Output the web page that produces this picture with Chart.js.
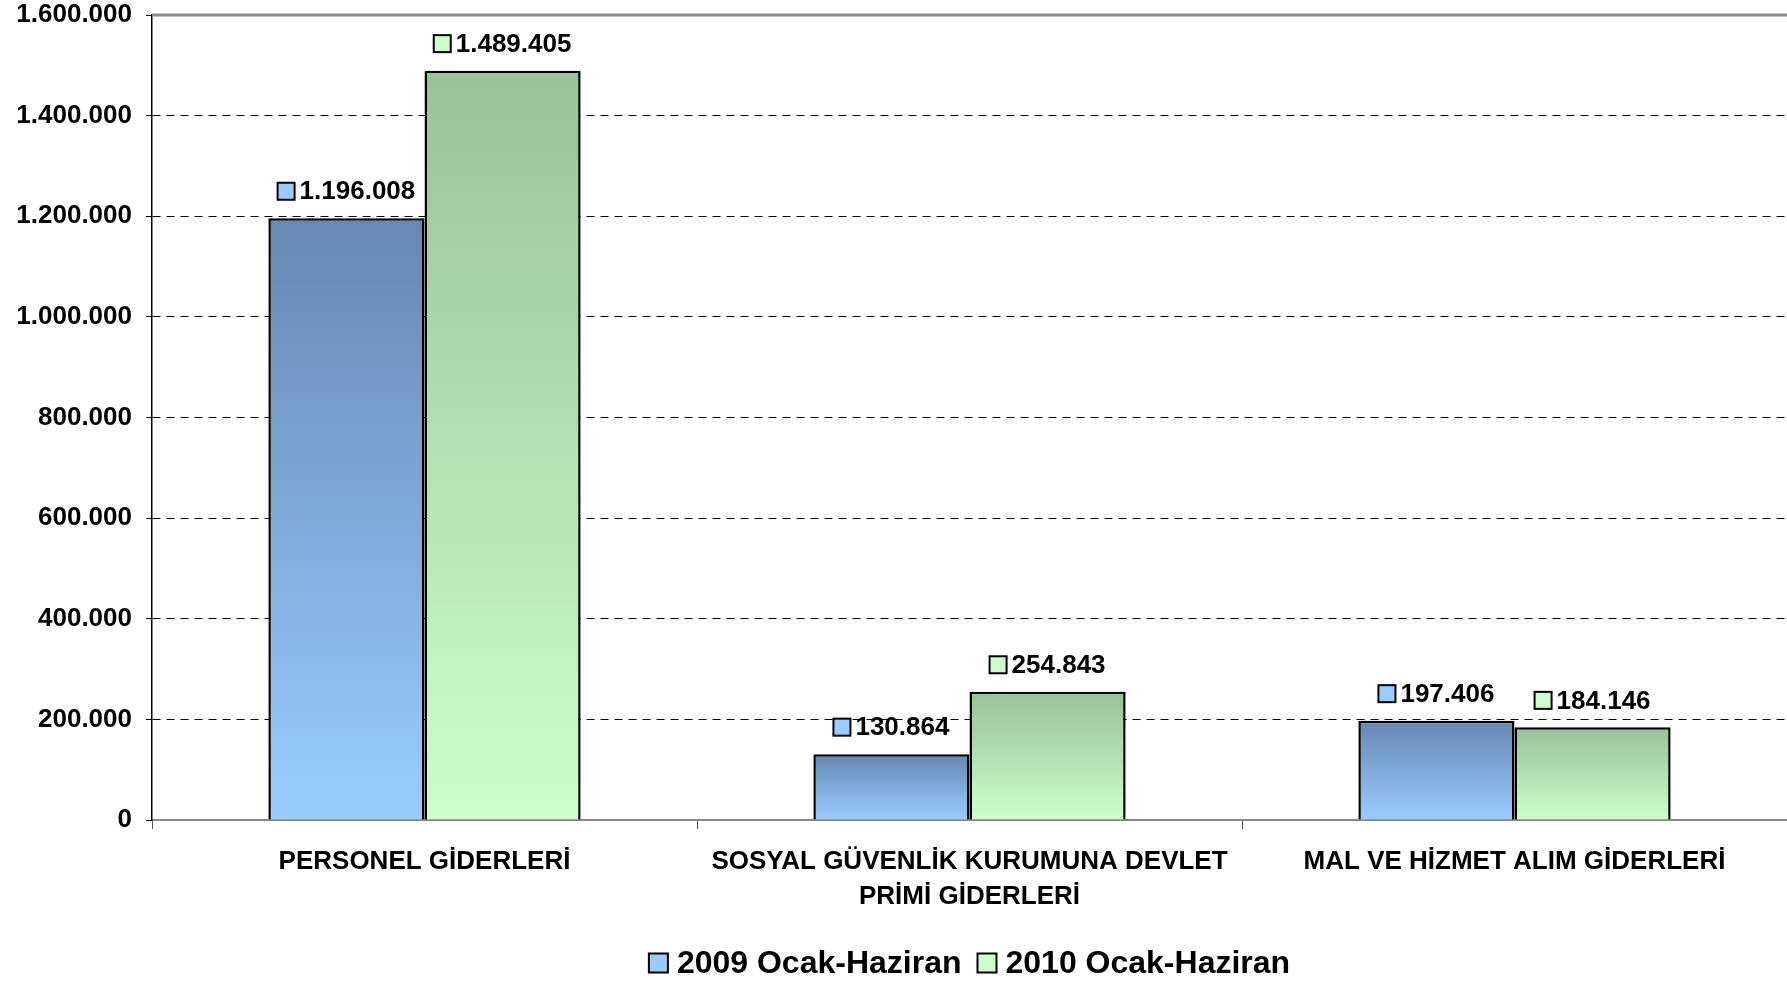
<!DOCTYPE html>
<html>
<head>
<meta charset="utf-8">
<script src="https://cdn.jsdelivr.net/npm/chart.js@4"></script>
<style>
  body { margin: 0; background: #fff; }
  #wrap { width: 1787px; height: 982px; }
</style>
</head>
<body>
<div id="wrap"><canvas id="chart"></canvas></div>
<script>
// Data
const categories = [
  "PERSONEL GİDERLERİ",
  ["SOSYAL GÜVENLİK KURUMUNA DEVLET", "PRİMİ GİDERLERİ"],
  "MAL VE HİZMET ALIM GİDERLERİ"
];
const seriesNames = ["2009 Ocak-Haziran", "2010 Ocak-Haziran"];
const values2009 = [1196008, 130864, 197406];
const values2010 = [1489405, 254843, 184146];
const yMax = 1600000;
const yStep = 200000;

const FONT = "'Liberation Sans', Arial, sans-serif";
const darkColors = ["#6688b2", "#98c298"];
const lightColors = ["#99ccff", "#ccffcc"];

// 1.600.000 style numbers
function fmt(v) {
    return String(v).replace(/\B(?=(\d{3})+(?!\d))/g, ".");
}

// gradient per bar, dark at top, light at bottom
function barFill(i) {
    return function (c) {
        const chart = c.chart;
        if (!chart.chartArea || c.raw === undefined) return lightColors[i];
        const y = chart.scales.y;
        const top = y.getPixelForValue(c.raw);
        const bottom = y.getPixelForValue(0);
        const g = chart.ctx.createLinearGradient(0, top, 0, bottom);
        g.addColorStop(0, darkColors[i]);
        g.addColorStop(1, lightColors[i]);
        return g;
    };
}

// small key square with black border
function keyBox(ctx, x, y, size, color) {
    ctx.fillStyle = color;
    ctx.fillRect(x, y, size, size);
    ctx.strokeStyle = "#000";
    ctx.lineWidth = 2;
    ctx.strokeRect(x, y, size, size);
}

// value labels with small key square
const valueLabels = {
    id: "valueLabels",
    afterDatasetsDraw(chart) {
        const ctx = chart.ctx;
        ctx.save();
        ctx.font = "bold 26px " + FONT;
        ctx.textBaseline = "middle";
        ctx.textAlign = "left";
        chart.data.datasets.forEach((ds, i) => {
            const meta = chart.getDatasetMeta(i);
            meta.data.forEach((bar, j) => {
                const text = fmt(ds.data[j]);
                const tw = ctx.measureText(text).width;
                const box = 17, gap = 5;
                const x0 = bar.x - (box + gap + tw) / 2;
                const yc = bar.y - 27;
                keyBox(ctx, x0, yc - box / 2, box, lightColors[i]);
                ctx.fillStyle = "#000";
                ctx.fillText(text, x0 + box + gap, yc + 1);
            });
        });
        ctx.restore();
    }
};

// grey top border + legend under the axis labels
const extras = {
    id: "extras",
    afterDraw(chart) {
        const a = chart.chartArea;
        const ctx = chart.ctx;
        ctx.save();
        ctx.strokeStyle = "#888";
        ctx.lineWidth = 3;
        ctx.beginPath();
        ctx.moveTo(a.left, a.top);
        ctx.lineTo(a.right, a.top);
        ctx.stroke();

        // legend
        ctx.font = "bold 32px " + FONT;
        ctx.textBaseline = "middle";
        ctx.textAlign = "left";
        const box = 19, gap = 9, itemGap = 16;
        const widths = seriesNames.map((n) => box + gap + ctx.measureText(n).width);
        const total = widths.reduce((s, w) => s + w, 0) + itemGap * (seriesNames.length - 1);
        let x = (a.left + a.right) / 2 - total / 2;
        const yc = 963;
        seriesNames.forEach((n, i) => {
            keyBox(ctx, x, yc - box / 2, box, lightColors[i]);
            ctx.fillStyle = "#000";
            ctx.fillText(n, x + box + gap, yc + 1);
            x += widths[i] + itemGap;
        });
        ctx.restore();
    }
};

new Chart(document.getElementById("chart"), {
    type: "bar",
    data: {
        labels: categories,
        datasets: [
            {
                label: seriesNames[0],
                data: values2009,
                backgroundColor: barFill(0),
                borderColor: "#000",
                borderWidth: 2.5
            },
            {
                label: seriesNames[1],
                data: values2010,
                backgroundColor: barFill(1),
                borderColor: "#000",
                borderWidth: 2.5
            }
        ]
    },
    options: {
        responsive: true,
        maintainAspectRatio: false,
        animation: false,
        layout: { padding: { top: 15, left: 0, right: 0, bottom: 0 } },
        datasets: {
            bar: { barPercentage: 1, categoryPercentage: 0.573 }
        },
        scales: {
            x: {
                grid: {
                    drawOnChartArea: false,
                    drawTicks: true,
                    tickLength: 9,
                    color: "#555",
                    offset: true
                },
                border: { color: "#888", width: 2 },
                ticks: {
                    color: "#000",
                    font: { family: FONT, size: 26, weight: "bold", lineHeight: 1.35 },
                    padding: 15,
                    maxRotation: 0,
                    autoSkip: false
                },
                afterFit(scale) { scale.height = 162; }
            },
            y: {
                min: 0,
                max: yMax,
                ticks: {
                    stepSize: yStep,
                    color: "#000",
                    font: { family: FONT, size: 26, weight: "bold" },
                    padding: 14,
                    callback: (v) => fmt(v)
                },
                grid: {
                    color: (c) => (c.tick && (c.tick.value === 0 || c.tick.value === yMax)) ? "rgba(0,0,0,0)" : "#000",
                    lineWidth: 1,
                    tickLength: 6,
                    tickColor: "#000",
                    tickBorderDash: []
                },
                border: { color: "#000", width: 1.5, dash: [8, 6] },
                afterFit(scale) {
                    scale.width = 152;
                    scale.paddingTop = 0;
                    scale.paddingBottom = 0;
                }
            }
        },
        plugins: {
            tooltip: { enabled: false },
            legend: { display: false }
        }
    },
    plugins: [valueLabels, extras]
});
</script>
</body>
</html>
